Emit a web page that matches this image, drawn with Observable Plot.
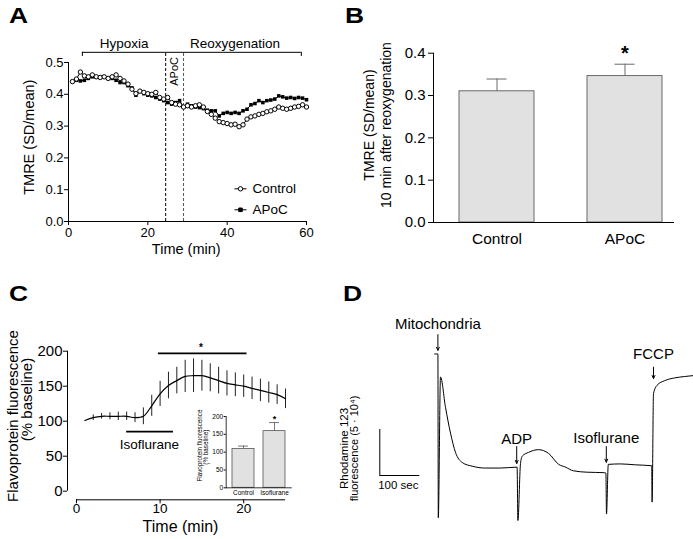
<!DOCTYPE html>
<html><head><meta charset="utf-8">
<script src="https://cdn.jsdelivr.net/npm/d3@7"></script>
<script src="https://cdn.jsdelivr.net/npm/@observablehq/plot@0.6"></script>
<style>
html,body{margin:0;padding:0;background:#fff;}
#fig{position:relative;width:693px;height:539px;overflow:hidden;background:#fff;}
.letter{position:absolute;font:bold 22px "Liberation Sans",Arial,sans-serif;line-height:1;transform-origin:left top;transform:scaleX(1.2);color:#000;}
</style></head>
<body><div id="fig"></div>
<script>
// ---------------- Panel A data ----------------
const minutesA = d3.range(1, 61);
const controlA = [0.44,0.448,0.47,0.458,0.455,0.461,0.455,0.453,0.455,0.45,0.455,0.461,0.45,0.442,0.432,0.416,0.402,0.41,0.406,0.402,0.4,0.406,0.39,0.385,0.39,0.374,0.369,0.367,0.36,0.364,0.36,0.364,0.367,0.36,0.346,0.337,0.325,0.314,0.311,0.308,0.304,0.306,0.298,0.304,0.322,0.329,0.332,0.337,0.34,0.345,0.348,0.353,0.36,0.356,0.353,0.356,0.36,0.362,0.367,0.36];
const apocA = [0.44,0.444,0.442,0.444,0.45,0.455,0.455,0.453,0.455,0.45,0.45,0.444,0.437,0.437,0.427,0.42,0.397,0.409,0.402,0.397,0.395,0.39,0.385,0.38,0.374,0.369,0.374,0.38,0.36,0.369,0.364,0.36,0.358,0.355,0.35,0.348,0.348,0.332,0.34,0.343,0.34,0.343,0.34,0.348,0.353,0.367,0.371,0.38,0.374,0.38,0.382,0.385,0.395,0.392,0.388,0.39,0.387,0.39,0.388,0.383];
const seriesA = ["Control", "APoC"];
const phaseNamesA = ["Hypoxia", "Reoxygenation"];
const phaseCentersA = [14, 42];
const bracketA = [3.5, 58.7];
const apocWindowA = [24.5, 29];
const xTicksA = [0, 20, 40, 60];
const yTicksA = [0, 0.1, 0.2, 0.3, 0.4, 0.5];

// ---------------- Panel B data ----------------
const groupsB = ["Control", "APoC"];
const meanB = [0.31, 0.346];
const semB = [0.029, 0.028];
const significantB = [false, true];
const yTicksB = [0, 0.1, 0.2, 0.3, 0.4];

// ---------------- Panel C data ----------------
const minutesC = d3.range(1, 26);
const meanC = [101,105,107,107,107,107,105,107,122,139,151,158,164,165,165,162,158,154,152,150,147,144,141,138,132];
const semC  = [0,4,4,5,6,6,7,12,15,18,19,19,23,24,22,20,19,18,17,16,16,16,15,14,14];
const isoPeriodC = [6, 11.6];
const sigPeriodC = [9.8, 20.4];
const xTicksC = [0, 10, 20];
const yTicksC = [0, 50, 100, 150, 200];
const insetGroupsC = ["Control", "Isoflurane"];
const insetMeanC = [109, 159];
const insetSemC = [8, 24];
const insetSigC = [false, true];

// ---------------- Panel D data ----------------
const traceTimeD = [3,11,12,17.5,30,42.5,55,72,97,130,167,209,211,217.5,222,237.5,262.5,287.5,313,330,350,384,426,431,432.5,437,467.5,505,545.5,546.5,550,559,578,603,628,650];
const traceFluoD = [18.1,18.1,0.3,15.6,12.3,9.5,7.4,6.3,5.9,5.7,5.7,5.8,0,6.2,7.0,7.4,7.7,7.3,6.1,5.8,5.4,5.25,5.2,5.15,0.7,6.1,6.15,6.05,5.95,2.0,13.8,14.7,15.2,15.5,15.65,15.75];
const eventNamesD = ["Mitochondria", "ADP", "Isoflurane", "FCCP"];
const eventTimesD = [11, 208, 432, 550];
const eventFluoD = [18.5, 6.2, 6.34, 15.43];

// ---------------- helpers ----------------
const FONT = "Liberation Sans, Arial, Helvetica, sans-serif";
const fig = document.getElementById("fig");
const baseStyle = {fontFamily: FONT, fontSize: "13px", color: "#000", background: "transparent", overflow: "visible"};
function place(el, left, top) {
  el.style.position = "absolute";
  el.style.left = left + "px";
  el.style.top = top + "px";
  el.style.maxWidth = "none";
  fig.appendChild(el);
}
function letter(t, left, top) {
  const d = document.createElement("div");
  d.className = "letter"; d.textContent = t;
  d.style.left = left + "px"; d.style.top = top + "px";
  fig.appendChild(d);
}
const legendDash = {draw(ctx) { ctx.moveTo(-6, 0); ctx.lineTo(6, 0); }};
const vText = {rotate: -90, lineAnchor: "bottom", textAnchor: "middle"};

// ---------------- Panel A ----------------
const rowsA = minutesA.map((t, i) => ({t, control: controlA[i], apoc: apocA[i]}));
const bracketY = 0.532, bracketDrop = 0.013, phaseLabelY = 0.546;
const legendDy = [[-32.7, -28.3], [-11.7, -7.7]];
const plotA = Plot.plot({
  width: 340, height: 270, marginLeft: 68, marginRight: 34, marginTop: 62, marginBottom: 49,
  x: {domain: [0, 60], range: [68, 306]},
  y: {domain: [0, 0.5], range: [221, 62]},
  style: baseStyle,
  marks: [
    Plot.ruleX([apocWindowA[0]], {y1: 0, y2: bracketY, stroke: "#000", strokeDasharray: "3,2"}),
    Plot.ruleX([apocWindowA[1]], {y1: 0, y2: bracketY, stroke: "#555", strokeDasharray: "3,2"}),
    Plot.ruleY([bracketY], {x1: bracketA[0], x2: bracketA[1]}),
    Plot.ruleX(bracketA, {y1: bracketY - bracketDrop, y2: bracketY}),
    Plot.text(phaseNamesA, {x: (d, i) => phaseCentersA[i], y: phaseLabelY, lineAnchor: "bottom", fontSize: 13.5}),
    Plot.text(["APoC"], {x: d3.mean(apocWindowA), y: 0.472, rotate: -90, textAnchor: "middle", fontSize: 11}),
    Plot.ruleY([0], {x1: 0, x2: 60}),
    Plot.ruleX([0], {y1: 0, y2: 0.5}),
    Plot.axisX({ticks: xTicksA, tickSize: 4, tickPadding: 2, fontSize: 13, label: null}),
    Plot.axisY({ticks: yTicksA, tickSize: 4, tickPadding: 1, tickFormat: d3.format(".1f"), fontSize: 13, label: null}),
    Plot.line(rowsA, {x: "t", y: "control", stroke: "#000", strokeWidth: 1}),
    Plot.line(rowsA, {x: "t", y: "apoc", stroke: "#000", strokeWidth: 1}),
    Plot.dot(rowsA, {x: "t", y: "apoc", symbol: "square", r: 2, fill: "#000"}),
    Plot.dot(rowsA, {x: "t", y: "control", r: 2.2, fill: "#fff", stroke: "#000", strokeWidth: 1}),
    Plot.text(["Time (min)"], {frameAnchor: "bottom", dx: -1.3, dy: 32.3, lineAnchor: "bottom", fontSize: 14.5}),
    Plot.text(["TMRE (SD/mean)"], {frameAnchor: "left", dx: -34.5, dy: -4.8, ...vText, fontSize: 14.5}),
    seriesA.map((name, i) => [
      Plot.dot([name], {frameAnchor: "bottom-right", dx: -66, dy: legendDy[i][0], symbol: legendDash, stroke: "#000", strokeWidth: 1}),
      Plot.dot([name], {frameAnchor: "bottom-right", dx: -66, dy: legendDy[i][0], symbol: i ? "square" : "circle", r: i ? 2 : 2.2, fill: i ? "#000" : "#fff", stroke: "#000", strokeWidth: 1}),
      Plot.text([name], {frameAnchor: "bottom-right", dx: -54, dy: legendDy[i][1], textAnchor: "start", lineAnchor: "bottom", fontSize: 13.5})
    ])
  ]
});
place(plotA, 0, 0);

// ---------------- Panel B ----------------
const rowsB = groupsB.map((g, i) => ({group: g, mean: meanB[i], hi: meanB[i] + semB[i], sig: significantB[i]}));
const plotB = Plot.plot({
  width: 353, height: 270, marginLeft: 93, marginRight: 19, marginTop: 52.7, marginBottom: 48,
  x: {type: "band", domain: groupsB, range: [93, 348], paddingInner: 0.414, paddingOuter: 0.203},
  y: {domain: [0, 0.4]},
  style: baseStyle,
  marks: [
    Plot.barY(rowsB, {x: "group", y: "mean", fill: "#e1e1e1", stroke: "#6a6a6a", strokeWidth: 1}),
    Plot.ruleX(rowsB, {x: "group", y1: "mean", y2: "hi", stroke: "#6a6a6a"}),
    Plot.tickY(rowsB, {x: "group", y: "hi", insetLeft: 27.5, insetRight: 27.5, stroke: "#6a6a6a"}),
    Plot.text(rowsB.filter(d => d.sig), {x: "group", y: "hi", text: () => "*", dy: -4, lineAnchor: "bottom", fontSize: 20, fontWeight: "bold"}),
    Plot.ruleY([0]),
    Plot.frame({anchor: "left"}),
    Plot.axisX({tickSize: 0, tickPadding: 10.3, fontSize: 15.5, label: null}),
    Plot.axisY({ticks: yTicksB, tickSize: 5, tickPadding: 3, tickFormat: d3.format(".1f"), fontSize: 15, label: null}),
    Plot.text(["TMRE (SD/mean)"], {frameAnchor: "left", dx: -59.7, dy: -12.8, ...vText, fontSize: 14}),
    Plot.text(["10 min after reoxygenation"], {frameAnchor: "left", dx: -43, dy: -12.8, ...vText, fontSize: 14})
  ]
});
place(plotB, 340, 0);

// ---------------- Panel C ----------------
const rowsC = minutesC.map((t, i) => ({t, mean: meanC[i], lo: meanC[i] - semC[i], hi: meanC[i] + semC[i], sem: semC[i]}));
const plotC = Plot.plot({
  width: 340, height: 269, marginLeft: 67, marginRight: 55, marginTop: 80.7, marginBottom: 39.7,
  x: {domain: [0, 25], range: [76, 285]},
  y: {domain: [0, 200], range: [220.7, 80.7]},
  style: baseStyle,
  marks: [
    Plot.ruleX(rowsC.filter(d => d.sem > 0), {x: "t", y1: "lo", y2: "hi", stroke: "#222", strokeWidth: 1}),
    Plot.line(rowsC, {x: "t", y: "mean", curve: "catmull-rom", stroke: "#000", strokeWidth: 1.2}),
    Plot.ruleY([197], {x1: sigPeriodC[0], x2: sigPeriodC[1], strokeWidth: 1.8}),
    Plot.text(["*"], {x: 14.9, y: 200, lineAnchor: "bottom", fontSize: 10, fontWeight: "bold"}),
    Plot.ruleY([85], {x1: isoPeriodC[0], x2: isoPeriodC[1], strokeWidth: 1.8}),
    Plot.text(["Isoflurane"], {x: 8.73, y: 60.6, lineAnchor: "bottom", fontSize: 13.5}),
    Plot.ruleY([0], {x1: 0, x2: 25, dy: 8.6}),
    Plot.ruleX([0], {y1: 0, y2: 200, dx: -9}),
    Plot.axisX({ticks: xTicksC, tickSize: 4, tickPadding: 0, fontSize: 13.5, label: null}),
    Plot.axisY({ticks: yTicksC, tickSize: 4, tickPadding: 1, fontSize: 15, label: null}),
    Plot.text(["Time (min)"], {frameAnchor: "bottom", dx: 4, dy: 31.8, lineAnchor: "bottom", fontSize: 16}),
    Plot.text(["Flavoprotein fluorescence"], {frameAnchor: "left", dx: -49.7, dy: -9.5, ...vText, fontSize: 15}),
    Plot.text(["(% baseline)"], {frameAnchor: "left", dx: -35.5, dy: -26, ...vText, fontSize: 15})
  ]
});
place(plotC, 0, 270);

// Panel C inset
const rowsCi = insetGroupsC.map((g, i) => ({group: g, mean: insetMeanC[i], hi: insetMeanC[i] + insetSemC[i], sig: insetSigC[i]}));
const plotCi = Plot.plot({
  width: 110, height: 105, marginLeft: 40.7, marginRight: 3.3, marginTop: 16, marginBottom: 17.7,
  x: {type: "band", domain: insetGroupsC, range: [40.7, 106.4], paddingInner: 0.3, paddingOuter: 0.19},
  y: {domain: [0, 200]},
  style: {...baseStyle, fontSize: "6.5px"},
  marks: [
    Plot.barY(rowsCi, {x: "group", y: "mean", fill: "#e1e1e1", stroke: "#555", strokeWidth: 0.8}),
    Plot.ruleX(rowsCi, {x: "group", y1: "mean", y2: "hi", stroke: "#555", strokeWidth: 0.8}),
    Plot.tickY(rowsCi, {x: "group", y: "hi", insetLeft: 6, insetRight: 6, stroke: "#555", strokeWidth: 0.8}),
    Plot.text(rowsCi.filter(d => d.sig), {x: "group", y: "hi", text: () => "*", dy: -1, lineAnchor: "bottom", fontSize: 9, fontWeight: "bold"}),
    Plot.ruleY([0], {strokeWidth: 0.8}),
    Plot.frame({anchor: "left", strokeWidth: 0.8}),
    Plot.axisX({tickSize: 0, tickPadding: 2.1, fontSize: 6.5, label: null}),
    Plot.axisY({ticks: yTicksC, tickSize: 2, tickPadding: 1, fontSize: 6.5, label: null}),
    Plot.text(["Flavoprotein fluorescence"], {frameAnchor: "left", dx: -24.2, dy: -6.6, ...vText, fontSize: 6.3}),
    Plot.text(["(% baseline)"], {frameAnchor: "left", dx: -18.2, dy: -5, ...vText, fontSize: 6.3})
  ]
});
place(plotCi, 185, 400);

// ---------------- Panel D ----------------
const rowsD = traceTimeD.map((t, i) => ({t, f: traceFluoD[i]}));
const eventsD = eventNamesD.map((n, i) => ({name: n, t: eventTimesD[i], f: eventFluoD[i]}));
const arrowLen = [1.7, 1.84, 1.7, 1.23];
const labelGap = [2.34, 2.14, 2.11, 2.15];
const plotD = Plot.plot({
  width: 353, height: 269, marginLeft: 93, marginRight: 0, marginTop: 66, marginBottom: 19,
  x: {domain: [0, 650], range: [93, 353], axis: null},
  y: {domain: [0, 20], range: [250, 66], axis: null},
  style: baseStyle,
  marks: [
    Plot.line(rowsD, {x: "t", y: "f", curve: "monotone-x", stroke: "#000", strokeWidth: 1}),
    Plot.arrow(eventsD, {x1: "t", x2: "t", y1: (d, i) => d.f + arrowLen[i], y2: "f", headLength: 5, headAngle: 50, stroke: "#000", strokeWidth: 1}),
    Plot.text(eventsD, {x: "t", y: (d, i) => d.f + labelGap[i], text: "name", lineAnchor: "bottom", fontSize: 15}),
    Plot.ruleX([-134.25], {y1: 4.89, y2: 9.89, stroke: "#000"}),
    Plot.ruleY([4.89], {x1: -134.25, x2: -34.25, stroke: "#000"}),
    Plot.text(["100 sec"], {x: -88, y: 3.45, lineAnchor: "bottom", fontSize: 11.5}),
    Plot.text(["Rhodamine 123"], {x: -215, y: 7.83, ...vText, fontSize: 11.5}),
    Plot.text(["fluorescence (5 \u00b7 10\u2074)"], {x: -188.75, y: 7.83, ...vText, fontSize: 11})
  ]
});
place(plotD, 340, 270);

// ---------------- Panel letters ----------------
letter("A", 9, 4.7);
letter("B", 344.7, 4.7);
letter("C", 8.7, 283.1);
letter("D", 343, 283.1);
</script>
</body></html>
